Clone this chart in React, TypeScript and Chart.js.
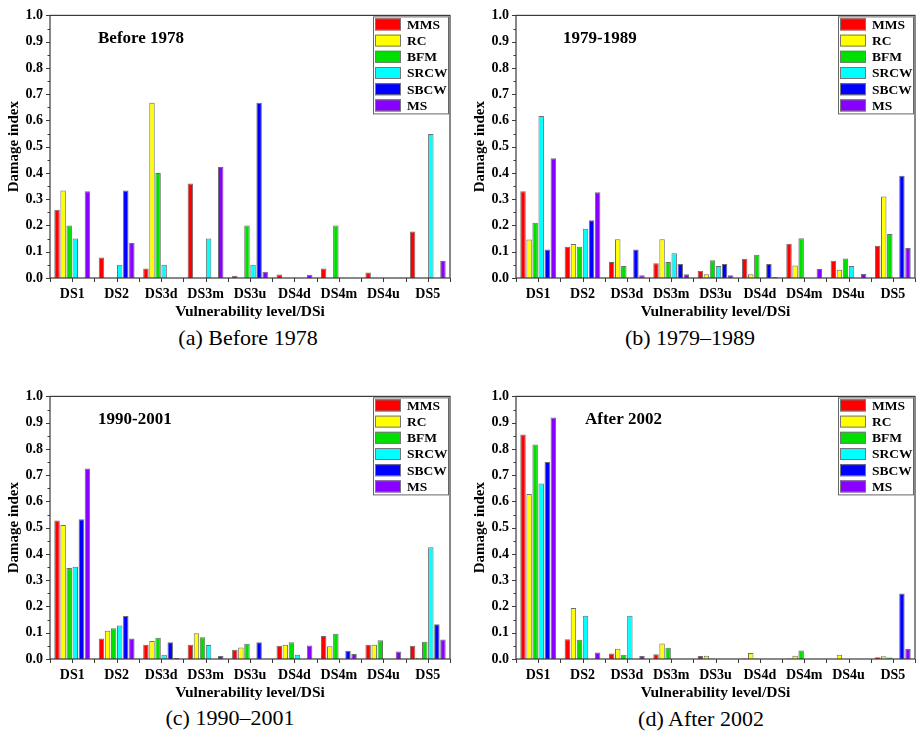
import React, { useEffect, useRef } from "react";
import { Chart, registerables } from "chart.js";

Chart.register(...registerables);

// Vulnerability levels on the x axis
const categories = ["DS1", "DS2", "DS3d", "DS3m", "DS3u", "DS4d", "DS4m", "DS4u", "DS5"];

// Structure types (one bar each per level)
const seriesNames = ["MMS", "RC", "BFM", "SRCW", "SBCW", "MS"];
const seriesColors = ["#ff0000", "#ffff00", "#00e000", "#00ffff", "#0000ff", "#8800ff"];

// Y axis ticks
const yTicks = [0, 0.1, 0.2, 0.3, 0.4, 0.5, 0.6, 0.7, 0.8, 0.9, 1.0];

// Damage index, buildings before 1978 (rows: MMS, RC, BFM, SRCW, SBCW, MS)
const before1978 = [
  [0.26, 0.078, 0.036, 0.36, 0.009, 0.013, 0.036, 0.021, 0.177],
  [0.333, 0, 0.667, 0, 0, 0, 0, 0, 0],
  [0.2, 0, 0.4, 0, 0.2, 0, 0.2, 0, 0],
  [0.15, 0.05, 0.05, 0.15, 0.05, 0, 0, 0, 0.548],
  [0, 0.333, 0, 0, 0.667, 0, 0, 0, 0],
  [0.33, 0.133, 0, 0.423, 0.024, 0.012, 0, 0, 0.065],
];

// Damage index, buildings 1979-1989
const y1979to1989 = [
  [0.33, 0.119, 0.061, 0.056, 0.028, 0.073, 0.13, 0.066, 0.123],
  [0.147, 0.129, 0.148, 0.148, 0.014, 0.014, 0.048, 0.031, 0.31],
  [0.21, 0.119, 0.046, 0.061, 0.068, 0.089, 0.151, 0.074, 0.168],
  [0.617, 0.188, 0, 0.094, 0.046, 0, 0, 0.046, 0],
  [0.109, 0.22, 0.109, 0.053, 0.053, 0.053, 0, 0, 0.389],
  [0.456, 0.327, 0.01, 0.014, 0.01, 0.004, 0.034, 0.015, 0.114],
];

// Damage index, buildings 1990-2001
const y1990to2001 = [
  [0.527, 0.078, 0.054, 0.054, 0.035, 0.05, 0.088, 0.054, 0.05],
  [0.51, 0.108, 0.069, 0.098, 0.044, 0.054, 0.049, 0.054, 0.005],
  [0.347, 0.117, 0.081, 0.083, 0.058, 0.064, 0.096, 0.071, 0.066],
  [0.351, 0.128, 0.016, 0.053, 0, 0.016, 0, 0, 0.426],
  [0.532, 0.164, 0.064, 0, 0.064, 0, 0.031, 0, 0.132],
  [0.725, 0.078, 0.004, 0.011, 0, 0.051, 0.019, 0.029, 0.074],
];

// Damage index, buildings after 2002
const after2002 = [
  [0.855, 0.075, 0.021, 0.018, 0.011, 0.002, 0.002, 0, 0.007],
  [0.628, 0.194, 0.039, 0.059, 0.012, 0.023, 0.012, 0.016, 0.01],
  [0.817, 0.073, 0.016, 0.043, 0.002, 0.002, 0.032, 0, 0.006],
  [0.668, 0.165, 0.165, 0, 0, 0, 0, 0, 0],
  [0.75, 0, 0, 0, 0, 0, 0, 0, 0.249],
  [0.92, 0.025, 0.011, 0, 0, 0, 0, 0, 0.038],
];

const SERIF = "'Liberation Serif', 'Times New Roman', serif";
const FRAME = "#3a3a3a";

type PanelProps = {
  left: number;
  top: number;
  width: number;
  padRight: number;
  values: number[][];
  heading: string;
  headingX: number;
};

function Panel({ left, top, width, padRight, values, heading, headingX }: PanelProps) {
  const ref = useRef<HTMLCanvasElement | null>(null);

  useEffect(() => {
    if (!ref.current) return;

    const decorations = {
      id: "frameTicksLegend",
      afterDraw(chart: any) {
        const { ctx, chartArea } = chart;
        const { left: l, right: r, top: t, bottom: b } = chartArea;
        const ys = chart.scales.y;
        ctx.save();
        ctx.strokeStyle = FRAME;
        ctx.lineWidth = 1.2;
        ctx.strokeRect(l, t, r - l, b - t);

        // x tick marks at category centres and boundaries
        ctx.beginPath();
        const n = categories.length;
        const step = (r - l) / n;
        for (let i = 0; i <= 2 * n; i++) {
          const x = Math.round(l + (i * step) / 2) + 0.5;
          ctx.moveTo(x, b);
          ctx.lineTo(x, b + 4);
        }
        // y tick marks, major and minor
        for (let v = 0; v <= 20; v++) {
          const y = Math.round(ys.getPixelForValue(v * 0.05)) + 0.5;
          ctx.moveTo(l, y);
          ctx.lineTo(l - (v % 2 === 0 ? 4 : 2.5), y);
        }
        ctx.lineWidth = 1;
        ctx.stroke();

        // panel heading
        ctx.fillStyle = "#000";
        ctx.font = `bold 17px ${SERIF}`;
        ctx.textBaseline = "middle";
        ctx.textAlign = "left";
        ctx.fillText(heading, l + headingX, t + 23);

        // legend box in top-right corner
        const bw = 75;
        const bh = 97;
        const bx = r - 77;
        const by = t + 1;
        ctx.fillStyle = "#fff";
        ctx.fillRect(bx, by, bw, bh);
        ctx.strokeStyle = "#666";
        ctx.lineWidth = 1;
        ctx.strokeRect(bx + 0.5, by + 0.5, bw, bh);
        ctx.font = `bold 13.5px ${SERIF}`;
        seriesNames.forEach((name, i) => {
          const sy = by + 2 + i * 16.2;
          ctx.fillStyle = seriesColors[i];
          ctx.fillRect(bx + 2, sy, 26, 12);
          ctx.strokeStyle = "#777";
          ctx.strokeRect(bx + 2.5, sy + 0.5, 25, 11);
          ctx.fillStyle = "#000";
          ctx.fillText(name, bx + 34, sy + 7);
        });
        ctx.restore();
      },
    };

    const chart = new Chart(ref.current, {
      type: "bar",
      data: {
        labels: categories,
        datasets: seriesNames.map((name, i) => ({
          label: name,
          data: values[i],
          backgroundColor: seriesColors[i],
          borderColor: "#6e6e6e",
          borderWidth: 1,
          categoryPercentage: 0.82,
          barPercentage: 0.9,
        })),
      },
      options: {
        animation: false,
        responsive: false,
        maintainAspectRatio: false,
        layout: { padding: { top: 12, right: padRight, bottom: 0, left: 0 } },
        plugins: { legend: { display: false }, tooltip: { enabled: false } },
        scales: {
          x: {
            grid: { display: false, drawTicks: false },
            border: { display: false },
            ticks: {
              color: "#000",
              padding: 8,
              font: { family: SERIF, size: 14, weight: "bold" },
              maxRotation: 0,
              autoSkip: false,
            },
            title: {
              display: true,
              text: "Vulnerability level/DSi",
              color: "#000",
              font: { family: SERIF, size: 15.5, weight: "bold" },
              padding: { top: 0, bottom: 1 },
            },
            afterFit: (s: any) => {
              s.height = 44;
            },
          },
          y: {
            min: 0,
            max: 1,
            grid: { display: false, drawTicks: false },
            border: { display: false },
            afterBuildTicks: (s: any) => {
              s.ticks = yTicks.map((v) => ({ value: v }));
            },
            ticks: {
              color: "#000",
              padding: 7,
              font: { family: SERIF, size: 14, weight: "bold" },
              callback: (v: any) => Number(v).toFixed(1),
            },
            title: {
              display: true,
              text: "Damage index",
              color: "#000",
              font: { family: SERIF, size: 15, weight: "bold" },
              padding: { top: 5, bottom: 0 },
            },
            afterFit: (s: any) => {
              s.width = 50;
            },
          },
        },
      },
      plugins: [decorations],
    });
    return () => chart.destroy();
  }, [values, heading, headingX, padRight]);

  return (
    <canvas
      ref={ref}
      width={width}
      height={322}
      style={{ position: "absolute", left, top, width, height: 322 }}
    />
  );
}

function Caption({ text, cx, cy }: { text: string; cx: number; cy: number }) {
  return (
    <div
      style={{
        position: "absolute",
        left: cx - 110,
        top: cy - 13,
        width: 220,
        textAlign: "center",
        fontFamily: SERIF,
        fontSize: 22,
        lineHeight: "26px",
        color: "#000",
      }}
    >
      {text}
    </div>
  );
}

export default function App() {
  return (
    <div
      style={{
        position: "absolute",
        left: 0,
        top: 0,
        width: 916,
        height: 733,
        background: "#fff",
        overflow: "hidden",
      }}
    >
      <Panel left={0} top={0} width={458} padRight={8} values={before1978} heading="Before 1978" headingX={48} />
      <Panel left={466} top={0} width={450} padRight={1} values={y1979to1989} heading="1979-1989" headingX={47} />
      <Panel left={0} top={381} width={458} padRight={8} values={y1990to2001} heading="1990-2001" headingX={48} />
      <Panel left={466} top={381} width={450} padRight={1} values={after2002} heading="After 2002" headingX={69} />
      <Caption text="(a) Before 1978" cx={248} cy={338} />
      <Caption text="(b) 1979–1989" cx={690} cy={338} />
      <Caption text="(c) 1990–2001" cx={230} cy={718} />
      <Caption text="(d) After 2002" cx={701} cy={719} />
    </div>
  );
}
